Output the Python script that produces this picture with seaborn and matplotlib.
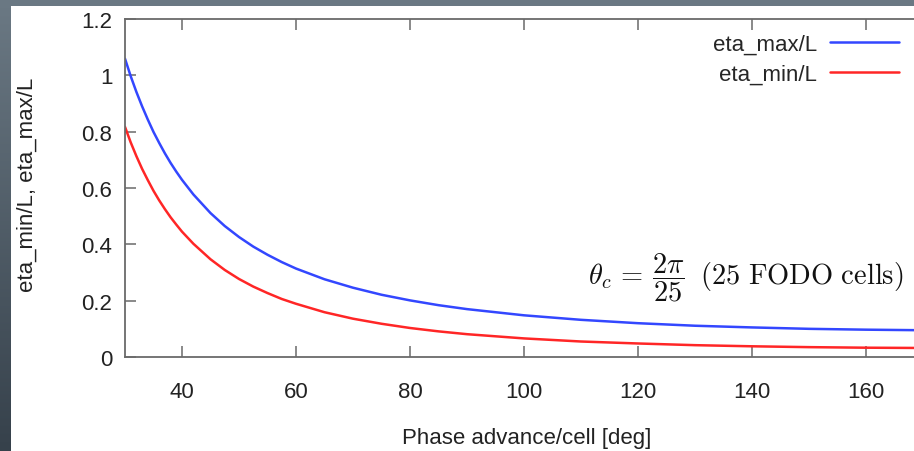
import numpy as np
import pandas as pd
import matplotlib
matplotlib.use("Agg")
import matplotlib.pyplot as plt
import seaborn as sns
from matplotlib.patches import Rectangle
from matplotlib.colors import LinearSegmentedColormap

# ---- data ----
phase = [30, 31, 32, 33, 34, 35, 36, 37, 38, 39, 40, 42, 45, 47.5, 50, 52.5,
         55, 57.5, 60, 65, 70, 75, 80, 85, 90, 100, 110, 120, 130, 140, 150,
         160, 170, 180]
eta_max = [1.059, 0.997, 0.941, 0.890, 0.843, 0.799, 0.760, 0.723, 0.689,
           0.658, 0.629, 0.577, 0.511, 0.465, 0.426, 0.392, 0.363, 0.337,
           0.314, 0.276, 0.246, 0.221, 0.201, 0.184, 0.170, 0.148, 0.132,
           0.120, 0.111, 0.105, 0.100, 0.097, 0.095, 0.094]
eta_min = [0.817, 0.762, 0.713, 0.668, 0.628, 0.590, 0.556, 0.525, 0.496,
           0.470, 0.445, 0.402, 0.347, 0.309, 0.277, 0.250, 0.227, 0.206,
           0.189, 0.159, 0.136, 0.118, 0.103, 0.091, 0.081, 0.066, 0.055,
           0.048, 0.042, 0.038, 0.035, 0.033, 0.032, 0.031]
series_names = ["eta_max/L", "eta_min/L"]
x_ticks = [40, 60, 80, 100, 120, 140, 160]
y_ticks = [0, 0.2, 0.4, 0.6, 0.8, 1.0, 1.2]
y_tick_labels = ["0", "0.2", "0.4", "0.6", "0.8", "1", "1.2"]

df = pd.DataFrame({
    "phase": phase * 2,
    "value": eta_max + eta_min,
    "series": [series_names[0]] * len(phase) + [series_names[1]] * len(phase),
})

sns.set_theme(style="ticks")
plt.rcParams["font.family"] = ["Liberation Sans", "DejaVu Sans"]
plt.rcParams["mathtext.fontset"] = "cm"

W, H = 914, 452
fig = plt.figure(figsize=(W / 100, H / 100), dpi=100)

# slide background gradient
bg = fig.add_axes([0, 0, 1, 1], zorder=-3)
grad = np.linspace(1, 0, 256).reshape(-1, 1)
cmap = LinearSegmentedColormap.from_list("slate", ["#36414b", "#6b7984"])
bg.imshow(grad, aspect="auto", extent=[0, 1, 0, 1], cmap=cmap)
bg.axis("off")
fig.add_artist(Rectangle((11 / W, 0), 1, 1 - 7 / H, transform=fig.transFigure,
                         facecolor="white", edgecolor="none", zorder=-2))

ax = fig.add_axes([125 / W, 1 - 358 / H, 855 / W, 338 / H])
ax.set_facecolor("white")

sns.lineplot(data=df, x="phase", y="value", hue="series",
             palette={series_names[0]: "#3347ff", series_names[1]: "#ff2626"},
             linewidth=1.8, ax=ax, errorbar=None)

ax.set_xlim(30, 180)
ax.set_ylim(0, 1.2)
ax.set_xticks(x_ticks)
ax.set_yticks(y_ticks)
ax.set_yticklabels(y_tick_labels)

for s in ax.spines.values():
    s.set_visible(True)
    s.set_color("#6a6a6a")
    s.set_linewidth(1.3)
ax.tick_params(direction="in", length=8, width=1.1, color="#6a6a6a",
               labelcolor="#222222", top=True, right=True, labelsize=16)
ax.tick_params(axis="x", pad=17)
ax.tick_params(axis="y", pad=9)

ax.set_xlabel("Phase advance/cell [deg]", fontsize=16, color="#222222")
ax.set_ylabel("eta_min/L, eta_max/L", fontsize=16, color="#222222")
ax.xaxis.set_label_coords((527 - 125) / 855, (358 - 428) / 338)
ax.yaxis.set_label_coords((38 - 125) / 855, (358 - 185) / 338)

handles, labels = ax.get_legend_handles_labels()
ax.legend(handles, labels, loc="upper right", bbox_to_anchor=(899 / W, 1 - 35 / H),
          bbox_transform=fig.transFigure, frameon=False, markerfirst=False,
          handlelength=3.1, handletextpad=0.6, labelspacing=0.4,
          borderpad=0, borderaxespad=0, fontsize=16)

fig.text(903 / W, 1 - 278 / H,
         r"$\theta_c\,=\,\dfrac{2\pi}{25}\;\;(25\ \mathrm{FODO\ cells})$",
         ha="right", va="center", fontsize=20.5, color="#111111")

fig.savefig("out.png", dpi=100)
